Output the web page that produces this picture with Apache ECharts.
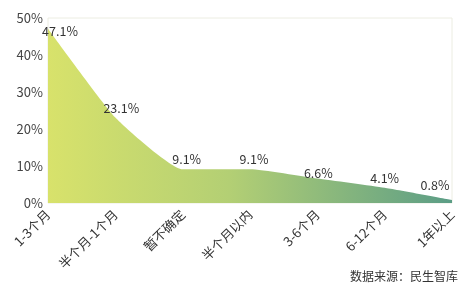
<!DOCTYPE html>
<html><head><meta charset="utf-8">
<script src="https://cdn.jsdelivr.net/npm/echarts@6/dist/echarts.min.js"></script>
<style>html,body{margin:0;padding:0;background:#fff}#c{width:469px;height:291px}</style>
</head><body><div id="c"></div>
<script>
const categories = ['1-3个月','半个月-1个月','暂不确定','半个月以内','3-6个月','6-12个月','1年以上'];
const values = [47.1, 23.1, 9.1, 9.1, 6.6, 4.1, 0.8];
const yTicks = [0, 10, 20, 30, 40, 50];
const sourceText = '数据来源：民生智库';

const font = '"Noto Sans CJK SC", "Microsoft YaHei", sans-serif';
const labelOffsets = {0: [12, 12], 1: [6, 0], 2: [4, 0], 3: [4, 0], 4: [1, 4], 6: [-17, -5]};
const chart = echarts.init(document.getElementById('c'));
chart.setOption({
  animation: false,
  grid: {left: 48, right: 17, top: 18, bottom: 88, show: true, borderColor: '#ecede2', borderWidth: 1},
  xAxis: {
    type: 'category', data: categories, boundaryGap: false,
    axisLine: {show: false}, axisTick: {show: false},
    axisLabel: {rotate: 45, color: '#333', fontSize: 13, fontFamily: font, margin: 9, interval: 0}
  },
  yAxis: {
    type: 'value', min: yTicks[0], max: yTicks[yTicks.length - 1], interval: 10,
    axisLine: {show: false}, axisTick: {show: false}, splitLine: {show: false},
    axisLabel: {formatter: '{value}%', color: '#444', fontSize: 13, fontFamily: font, margin: 5}
  },
  series: [{
    type: 'line', smooth: 0.15, symbol: 'circle', symbolSize: 1, showSymbol: true,
    itemStyle: {color: 'rgba(0,0,0,0)', borderWidth: 0},
    lineStyle: {width: 0},
    areaStyle: {opacity: 1, color: new echarts.graphic.LinearGradient(0, 0, 1, 0, [
      {offset: 0, color: '#d8e26b'},
      {offset: 0.45, color: '#b3cf74'},
      {offset: 1, color: '#5b9d86'}
    ])},
    data: values.map((v, i) => labelOffsets[i] ? {value: v, label: {offset: labelOffsets[i]}} : v),
    label: {show: true, position: 'top', formatter: p => p.value + '%', color: '#333', fontSize: 12.5, fontFamily: font, distance: 3}
  }],
  graphic: [{
    type: 'text', right: 11, top: 270,
    style: {text: sourceText, fill: '#333', font: '12px "Noto Sans CJK SC", serif'}
  }]
});
</script></body></html>
